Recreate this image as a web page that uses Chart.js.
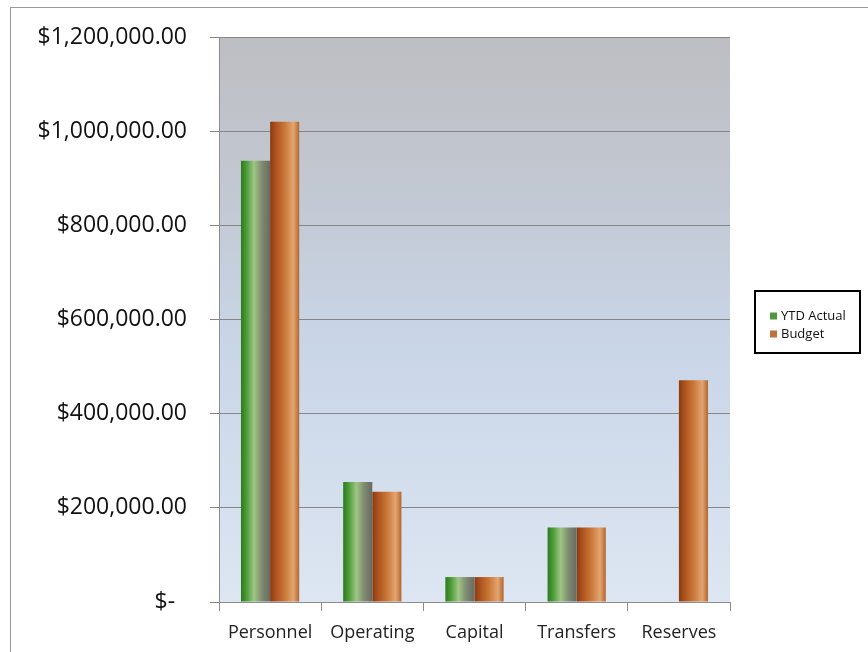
<!DOCTYPE html>
<html lang="en">
<head>
    <meta charset="UTF-8">
    <title>YTD Actual vs Budget</title>
    <style>
        html, body {
            margin: 0;
            padding: 0;
            background: #fff;
        }

        .frame {
            position: absolute;
            left: 10px;
            top: 7px;
            width: 900px;
            height: 700px;
            border-top: 1px solid #9a9a9a;
            border-left: 1px solid #9a9a9a;
        }

        .chart-box {
            position: absolute;
            left: 0;
            top: 0;
            width: 868px;
            height: 652px;
        }
    </style>
</head>
<body>
    <div class="frame"></div>
    <div class="chart-box">
        <canvas id="budgetChart" width="868" height="652"></canvas>
    </div>

    <script src="https://cdn.jsdelivr.net/npm/chart.js@4"></script>
    <script>
        // data
        const categories = ['Personnel', 'Operating', 'Capital', 'Transfers', 'Reserves'];
        const ytdActual = [937000, 255000, 53000, 158000, 0];
        const budget = [1020000, 234000, 53000, 158000, 471000];
        const yTicks = [0, 200000, 400000, 600000, 800000, 1000000, 1200000];
        const seriesNames = ['YTD Actual', 'Budget'];
        const swatchColors = ['#4e9a3a', '#c0703a'];

        const FONT = "'Open Sans', sans-serif";
        const CAT_PCT = 0.57;

        // horizontal shading across each bar, like the cylinder look of the original
        const greenStops = [[0, '#2c7a1e'], [0.18, '#4a9a36'], [0.45, '#9ec583'], [0.72, '#7f8b70'], [1, '#686a62']];
        const orangeStops = [[0, '#8a3c10'], [0.22, '#b05520'], [0.5, '#c97838'], [0.8, '#e3a570'], [1, '#b36630']];

        function barGradient(ctx, stops, dsIndex, fallback) {
            const chart = ctx.chart;
            const xs = chart.scales.x;
            if (!xs || ctx.type !== 'data') return fallback;
            const catW = xs.width / categories.length;
            const group = catW * CAT_PCT;
            const center = xs.getPixelForValue(ctx.dataIndex);
            const left = center - group / 2 + dsIndex * group / 2;
            if (!Number.isFinite(left) || !Number.isFinite(group) || group <= 0) return fallback;
            const g = chart.ctx.createLinearGradient(left, 0, left + group / 2, 0);
            stops.forEach(s => g.addColorStop(s[0], s[1]));
            return g;
        }

        // plot area background: gray at the top fading to pale blue
        const plotBackground = {
            id: 'plotBackground',
            beforeDraw(chart) {
                const { ctx, chartArea: a } = chart;
                const g = ctx.createLinearGradient(0, a.top, 0, a.bottom);
                g.addColorStop(0, '#bdbec2');
                g.addColorStop(0.3, '#c3c9d4');
                g.addColorStop(0.55, '#c9d6e8');
                g.addColorStop(1, '#dde6f2');
                ctx.save();
                ctx.fillStyle = g;
                ctx.fillRect(a.left, a.top, a.right - a.left, a.bottom - a.top);
                ctx.restore();
            }
        };

        // boxed legend to the right of the plot
        const boxedLegend = {
            id: 'boxedLegend',
            afterDraw(chart) {
                const ctx = chart.ctx;
                const x = 755, y = 291, w = 105, h = 62;
                ctx.save();
                ctx.strokeStyle = '#000';
                ctx.lineWidth = 2;
                ctx.strokeRect(x, y, w, h);
                ctx.font = '13px ' + FONT;
                ctx.textBaseline = 'middle';
                seriesNames.forEach((name, i) => {
                    const cy = 316 + i * 18;
                    ctx.fillStyle = swatchColors[i];
                    ctx.fillRect(770, cy - 3.5, 7, 7);
                    ctx.fillStyle = '#111';
                    ctx.fillText(name, 781, cy);
                });
                ctx.restore();
            }
        };

        new Chart(document.getElementById('budgetChart'), {
            type: 'bar',
            data: {
                labels: categories,
                datasets: [{
                    label: seriesNames[0],
                    data: ytdActual,
                    backgroundColor: ctx => barGradient(ctx, greenStops, 0, swatchColors[0]),
                    categoryPercentage: CAT_PCT,
                    barPercentage: 1
                }, {
                    label: seriesNames[1],
                    data: budget,
                    backgroundColor: ctx => barGradient(ctx, orangeStops, 1, swatchColors[1]),
                    categoryPercentage: CAT_PCT,
                    barPercentage: 1
                }]
            },
            options: {
                responsive: false,
                animation: false,
                layout: {
                    padding: { left: 0, top: 37, right: 138, bottom: 0 }
                },
                plugins: {
                    legend: { display: false },
                    tooltip: { enabled: false }
                },
                scales: {
                    x: {
                        grid: {
                            display: true,
                            drawOnChartArea: false,
                            offset: true,
                            tickLength: 9,
                            color: '#8c8c8c'
                        },
                        border: { color: '#8c8c8c' },
                        ticks: {
                            color: '#222',
                            padding: 11,
                            font: { family: FONT, size: 18 }
                        },
                        afterFit(scale) { scale.height = 50; }
                    },
                    y: {
                        min: 0,
                        max: 1200000,
                        afterBuildTicks(scale) {
                            scale.ticks = yTicks.map(v => ({ value: v }));
                        },
                        grid: {
                            color: '#858585',
                            lineWidth: 1,
                            tickLength: 9
                        },
                        border: { color: '#8c8c8c' },
                        ticks: {
                            color: '#111',
                            padding: 23,
                            font: { family: FONT, size: 23 },
                            callback(v) {
                                if (v === 0) return '$-\u00a0\u00a0';
                                return '$' + v.toLocaleString('en-US', { minimumFractionDigits: 2, maximumFractionDigits: 2 });
                            }
                        },
                        afterFit(scale) { scale.width = 219; }
                    }
                }
            },
            plugins: [plotBackground, boxedLegend]
        });
    </script>
</body>
</html>
